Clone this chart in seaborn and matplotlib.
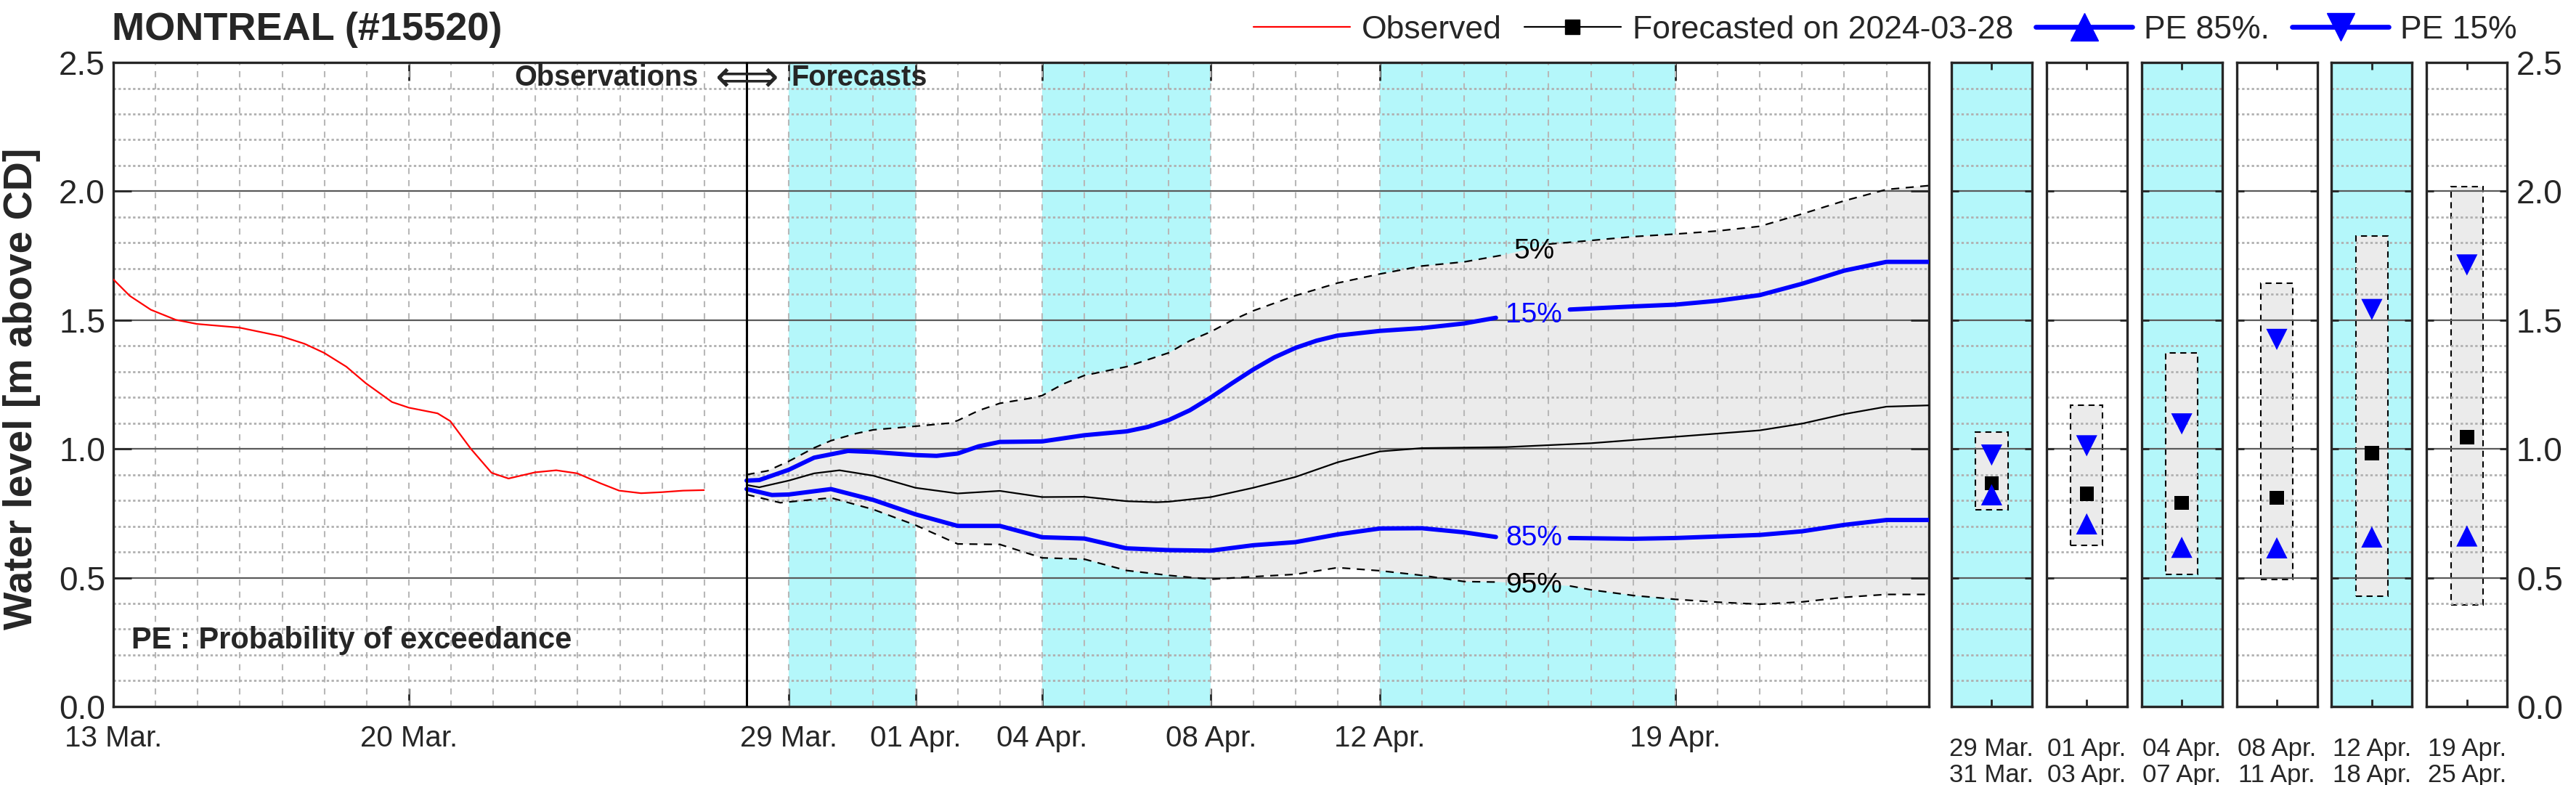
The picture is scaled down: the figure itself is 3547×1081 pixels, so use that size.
import numpy as np
import pandas as pd
import seaborn as sns
import matplotlib.pyplot as plt
from matplotlib.lines import Line2D
from matplotlib.ticker import MultipleLocator, FixedLocator, FormatStrFormatter

sns.set_style('white')
plt.rcParams['font.family'] = ['Liberation Sans', 'DejaVu Sans']

# x = days since 13 Mar. 2024 00:00
tick_days = [0, 7, 16, 19, 22, 26, 30, 37]
tick_labels = ['13 Mar.', '20 Mar.', '29 Mar.', '01 Apr.', '04 Apr.', '08 Apr.', '12 Apr.', '19 Apr.']
band_edges = [16, 19, 22, 26, 30, 37, 43]
forecast_day = 15

obs_days = [0, 0.39, 0.89, 1.48, 1.98, 2.98, 3.98, 4.53, 4.99, 5.52, 5.98, 6.6, 7.0, 7.68,
            7.98, 8.47, 8.96, 9.36, 9.99, 10.49, 10.99, 11.53, 11.98, 12.5, 12.99, 13.5, 13.99]
obs_level = [1.658, 1.594, 1.540, 1.501, 1.485, 1.471, 1.437, 1.408, 1.373, 1.319, 1.255, 1.182,
             1.160, 1.138, 1.108, 1.0, 0.907, 0.885, 0.909, 0.917, 0.905, 0.867, 0.838, 0.828,
             0.832, 0.838, 0.840]

p05_days = [15, 15.5, 16, 16.6, 17, 17.6, 18, 19, 19.8, 20, 20.5, 21, 21.7, 22, 22.5, 23, 24, 25,
            25.5, 26, 26.5, 27, 28, 29, 30, 31, 32, 33, 34, 35, 36, 37, 38, 39, 40, 41, 42, 43]
p05 = [0.90, 0.915, 0.952, 1.004, 1.032, 1.06, 1.074, 1.088, 1.10, 1.11, 1.149, 1.177, 1.196, 1.207,
       1.252, 1.285, 1.319, 1.373, 1.42, 1.455, 1.499, 1.536, 1.595, 1.644, 1.679, 1.71, 1.726,
       1.755, 1.795, 1.809, 1.824, 1.834, 1.846, 1.864, 1.912, 1.963, 2.007, 2.022]

p15_days = [15, 15.3, 16, 16.6, 17.4, 18, 19, 19.5, 20, 20.5, 21, 22, 23, 24, 24.5, 25, 25.5, 26,
            26.5, 27, 27.5, 28, 28.5, 29, 30, 31, 32, 32.75, 34.5, 36, 37, 38, 39, 40, 41, 42, 43]
p15 = [0.877, 0.879, 0.919, 0.966, 0.992, 0.988, 0.976, 0.973, 0.982, 1.01, 1.027, 1.029, 1.053,
       1.068, 1.085, 1.112, 1.15, 1.20, 1.255, 1.308, 1.355, 1.392, 1.42, 1.44, 1.458, 1.469, 1.487,
       1.509, 1.541, 1.553, 1.56, 1.575, 1.597, 1.641, 1.692, 1.726, 1.726]

med_days = [15, 15.3, 16, 16.6, 17.2, 18, 19, 20, 21, 22, 23, 24, 24.7, 25, 26, 27, 28, 29, 30, 31,
            33, 35, 37, 39, 40, 41, 42, 43]
med = [0.86, 0.851, 0.877, 0.905, 0.917, 0.896, 0.849, 0.827, 0.837, 0.813, 0.814, 0.797, 0.793,
       0.795, 0.813, 0.849, 0.891, 0.948, 0.99, 1.003, 1.007, 1.022, 1.047, 1.072, 1.098, 1.135,
       1.164, 1.169]

p85_days = [15, 15.6, 16, 17, 18, 19, 20, 21, 22, 23, 24, 25, 26, 27, 28, 29, 30, 31, 32, 32.75,
            34.5, 36, 37, 39, 40, 41, 42, 43]
p85 = [0.844, 0.821, 0.823, 0.844, 0.802, 0.746, 0.701, 0.701, 0.657, 0.652, 0.614, 0.607, 0.605,
       0.626, 0.638, 0.668, 0.691, 0.692, 0.676, 0.658, 0.654, 0.651, 0.654, 0.666, 0.68, 0.705,
       0.724, 0.724]

p95_days = [15, 15.8, 17, 18, 19, 20, 21, 22, 23, 24, 25, 26, 27, 28, 29, 30, 31, 32, 32.8, 34.5,
            35, 36, 37, 38, 39, 40, 41, 42, 43]
p95 = [0.823, 0.791, 0.81, 0.765, 0.704, 0.631, 0.629, 0.577, 0.572, 0.528, 0.509, 0.494, 0.504,
       0.513, 0.539, 0.527, 0.509, 0.485, 0.483, 0.468, 0.453, 0.431, 0.416, 0.405, 0.397, 0.406,
       0.424, 0.435, 0.435]

# weekly-block summary panels
panel_labels = ['29 Mar.\n31 Mar.', '01 Apr.\n03 Apr.', '04 Apr.\n07 Apr.',
                '08 Apr.\n11 Apr.', '12 Apr.\n18 Apr.', '19 Apr.\n25 Apr.']
panel_p05 = [1.064, 1.170, 1.372, 1.643, 1.826, 2.018]
panel_p95 = [0.764, 0.625, 0.512, 0.493, 0.429, 0.393]
panel_p15 = [0.976, 1.012, 1.097, 1.425, 1.541, 1.714]
panel_med = [0.866, 0.826, 0.790, 0.810, 0.983, 1.045]
panel_p85 = [0.822, 0.709, 0.618, 0.616, 0.658, 0.662]

CYAN = '#b4f7fa'
BAND = '#ebebeb'
SPINE = '#262626'


def style_grid(a):
    a.set_ylim(0, 2.5)
    a.yaxis.set_major_locator(MultipleLocator(0.5))
    a.yaxis.set_minor_locator(MultipleLocator(0.1))
    a.yaxis.set_major_formatter(FormatStrFormatter('%.1f'))
    a.grid(which='minor', axis='y', color='#b0b0b0', linestyle=(0, (1.2, 1.2)), lw=2)
    a.grid(which='major', axis='y', color='#5a5a5a', lw=1.6)
    a.set_axisbelow('line')
    for s in a.spines.values():
        s.set_color(SPINE)
        s.set_linewidth(2.4)


fig = plt.figure(figsize=(35.47, 10.81), dpi=100)
ax = fig.add_axes([0.044, 0.1, 0.7047, 0.8204])

for k in range(0, len(band_edges) - 1, 2):
    ax.axvspan(band_edges[k], band_edges[k + 1], color=CYAN, lw=0, zorder=0.5)

ax.fill(p05_days + p95_days[::-1], p05 + p95[::-1], color=BAND, lw=0, zorder=0.8)

sns.lineplot(x=obs_days, y=obs_level, ax=ax, color='red', lw=1.6, estimator=None, zorder=3)
sns.lineplot(x=med_days, y=med, ax=ax, color='black', lw=1.6, estimator=None, zorder=3)


def split(days, vals, lo, hi):
    d = np.array(days)
    v = np.array(vals)
    return [(d[d <= lo], v[d <= lo]), (d[d >= hi], v[d >= hi])]


for d, v in split(p05_days, p05, 33, 34):
    sns.lineplot(x=d, y=v, ax=ax, color='black', lw=1.6, linestyle=(0, (5, 4)), estimator=None, zorder=3)
for d, v in split(p95_days, p95, 32.8, 34.5):
    sns.lineplot(x=d, y=v, ax=ax, color='black', lw=1.6, linestyle=(0, (5, 4)), estimator=None, zorder=3)
for d, v in split(p15_days, p15, 32.75, 34.5):
    sns.lineplot(x=d, y=v, ax=ax, color='blue', lw=4.3, estimator=None, zorder=3)
for d, v in split(p85_days, p85, 32.75, 34.5):
    sns.lineplot(x=d, y=v, ax=ax, color='blue', lw=4.3, estimator=None, zorder=3)

ax.text(33.65, 1.768, '5%', fontsize=28, color='black', ha='center', va='center', zorder=4)
ax.text(33.65, 1.519, '15%', fontsize=28, color='blue', ha='center', va='center', zorder=4)
ax.text(33.65, 0.654, '85%', fontsize=28, color='blue', ha='center', va='center', zorder=4)
ax.text(33.65, 0.47, '95%', fontsize=28, color='black', ha='center', va='center', zorder=4)

ax.axvline(forecast_day, color='black', lw=2.2, zorder=3)
ax.text(13.85, 2.44, 'Observations', fontsize=28.5, fontweight='bold', ha='right', va='center', zorder=4)
ax.text(forecast_day, 2.435, '\u27fa', fontsize=44, family=['DejaVu Sans'], ha='center', va='center', zorder=4)
ax.text(16.05, 2.44, 'Forecasts', fontsize=28.5, fontweight='bold', ha='left', va='center', zorder=4)
ax.text(0.43, 0.255, 'PE : Probability of exceedance', fontsize=30, fontweight='bold',
        ha='left', va='center', zorder=4)

ax.set_xlim(0, 43)
ax.xaxis.set_major_locator(FixedLocator(tick_days))
ax.set_xticklabels(tick_labels)
ax.xaxis.set_minor_locator(MultipleLocator(1))
ax.xaxis.remove_overlapping_locs = False
style_grid(ax)
ax.grid(which='minor', axis='x', color='#b8b8b8', linestyle=(0, (4, 4)), lw=1.5)
ax.tick_params(axis='x', which='major', direction='in', length=18, width=2, top=True, bottom=True,
               labelsize=29, pad=18, color=SPINE, labelcolor=SPINE)
ax.tick_params(axis='both', which='minor', length=0)
ax.tick_params(axis='y', which='major', direction='in', length=18, width=2, left=True, right=True,
               labelsize=33, pad=8, color=SPINE, labelcolor=SPINE)
ax.set_xlabel('')
ax.set_ylabel('')

for i in range(6):
    pax = fig.add_axes([0.7575 + i * 0.0369, 0.1, 0.0313, 0.8204])
    if i % 2 == 0:
        pax.set_facecolor(CYAN)
    pax.bar(0.5, panel_p05[i] - panel_p95[i], bottom=panel_p95[i], width=0.4, color=BAND,
            edgecolor='black', linestyle=(0, (4, 3)), lw=1.5, zorder=0.8)
    sns.scatterplot(x=[0.5], y=[panel_p15[i]], ax=pax, marker='v', s=21 ** 2, color='blue',
                    edgecolor='none', zorder=4)
    sns.scatterplot(x=[0.5], y=[panel_med[i]], ax=pax, marker='s', s=14 ** 2, color='black',
                    edgecolor='none', zorder=4)
    sns.scatterplot(x=[0.5], y=[panel_p85[i]], ax=pax, marker='^', s=21 ** 2, color='blue',
                    edgecolor='none', zorder=4)
    pax.set_xlim(0, 1)
    pax.set_xticks([0.5])
    pax.set_xticklabels([panel_labels[i]], linespacing=1.15)
    style_grid(pax)
    pax.tick_params(axis='x', direction='in', length=7, width=2, top=True, bottom=True,
                    labelsize=25, pad=30, color=SPINE, labelcolor=SPINE)
    pax.tick_params(axis='y', which='major', direction='in', length=7, width=2, left=True, right=True,
                    labelleft=False, labelright=(i == 5), labelsize=33, pad=9, color=SPINE,
                    labelcolor=SPINE)
    pax.tick_params(axis='y', which='minor', length=0)
    pax.set_xlabel('')
    pax.set_ylabel('')

fig.text(0.0434, 0.962, 'MONTREAL (#15520)', fontsize=39, fontweight='bold', ha='left', va='center')
fig.text(0.0085, 0.505, 'Water level [m above CD]', fontsize=40, fontweight='bold', rotation=90,
         ha='center', va='center')

handles = [Line2D([], [], color='red', lw=1.6),
           Line2D([], [], color='black', lw=1.6, marker='s', ms=15),
           Line2D([], [], color='blue', lw=4.8, marker='^', ms=28),
           Line2D([], [], color='blue', lw=4.8, marker='v', ms=28)]
labels = ['Observed', 'Forecasted on 2024-03-28', 'PE 85%.', 'PE 15%']
fig.legend(handles, labels, loc='center right', bbox_to_anchor=(0.977, 0.962), ncol=4,
           frameon=False, fontsize=32, handlelength=3.0, handletextpad=0.35, columnspacing=0.7,
           borderaxespad=0, borderpad=0)

fig.savefig('out.png', dpi=100)
